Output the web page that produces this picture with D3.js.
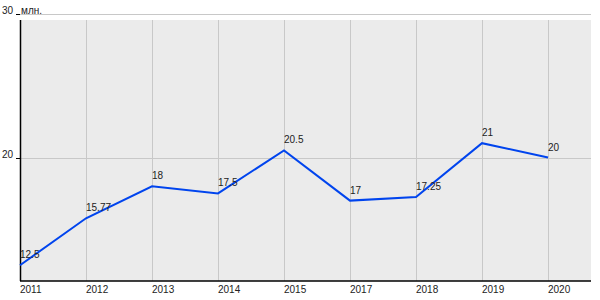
<!DOCTYPE html>
<html>
<head>
    <meta charset="UTF-8">
    <script src="https://d3js.org/d3.v7.min.js"></script>
    <style>
        body { margin: 0; background: #fff; }
        text { font-family: "Liberation Sans", Arial, sans-serif; font-size: 10px; fill: #222; }
    </style>
</head>
<body>
    <svg id="chart"></svg>
    <script>
    // DATA
    var years  = ["2011", "2012", "2013", "2014", "2015", "2017", "2018", "2019", "2020"];
    var values = [12.5, 15.77, 18, 17.5, 20.5, 17, 17.25, 21, 20];
    var yTicks = [20, 30];
    var unit = "млн.";

    var width = 600,
        height = 300;

    var plotLeft = 20, plotRight = 591, plotTop = 20, plotBottom = 281;

    var svg = d3.select("#chart")
                .attr("width", width)
                .attr("height", height);

    var x = d3.scalePoint()
                .domain(years)
                .range([plotLeft, 548]);

    var y = d3.scaleLinear()
                .domain([11.4, 30])
                .range([plotBottom, 14]);

    // plot background
    svg.append("rect")
        .attr("x", plotLeft)
        .attr("y", plotTop)
        .attr("width", plotRight - plotLeft)
        .attr("height", plotBottom - plotTop)
        .style("fill", "#ebebeb");

    // vertical grid
    svg.append("g")
        .selectAll("line")
        .data(years)
        .enter().append("line")
            .attr("x1", d => x(d) + 0.5)
            .attr("x2", d => x(d) + 0.5)
            .attr("y1", plotTop)
            .attr("y2", plotBottom)
            .style("stroke", "#c8c8c8");

    // horizontal grid
    svg.append("g")
        .selectAll("line")
        .data(yTicks)
        .enter().append("line")
            .attr("x1", plotLeft)
            .attr("x2", plotRight)
            .attr("y1", d => Math.round(y(d)) + 0.5)
            .attr("y2", d => Math.round(y(d)) + 0.5)
            .style("stroke", "#c8c8c8");

    // y ticks + labels
    var yt = svg.append("g")
        .selectAll("g")
        .data(yTicks)
        .enter().append("g")
            .attr("transform", d => `translate(0, ${Math.round(y(d)) + 0.5})`);
    yt.append("line")
        .attr("x1", 16).attr("x2", plotLeft)
        .style("stroke", "#000");
    yt.append("text")
        .attr("x", 13)
        .attr("y", -1)
        .attr("text-anchor", "end")
        .text(d => d);

    svg.append("text")
        .attr("x", 21)
        .attr("y", Math.round(y(30)) - 0.5)
        .text(unit);

    // axes lines
    svg.append("line")
        .attr("x1", plotLeft + 0.5).attr("x2", plotLeft + 0.5)
        .attr("y1", plotTop).attr("y2", plotBottom)
        .style("stroke", "#000")
        .style("stroke-width", 1.5);
    svg.append("line")
        .attr("x1", plotLeft).attr("x2", plotRight)
        .attr("y1", plotBottom).attr("y2", plotBottom)
        .style("stroke", "#000")
        .style("stroke-width", 1.5);

    // x labels
    svg.append("g")
        .selectAll("text")
        .data(years)
        .enter().append("text")
            .attr("x", d => x(d))
            .attr("y", 293)
            .text(d => d);

    // series line
    var pts = years.map((d, i) => ({year: d, value: values[i]}));

    svg.append("path")
        .datum(pts)
        .attr("d", d3.line().x(d => x(d.year)).y(d => y(d.value)))
        .style("fill", "none")
        .style("stroke", "#0044ee")
        .style("stroke-width", 2);

    // value labels
    svg.append("g")
        .selectAll("text")
        .data(pts)
        .enter().append("text")
            .attr("x", d => x(d.year))
            .attr("y", d => y(d.value) - 7)
            .text(d => d.value);
    </script>
</body>
</html>
